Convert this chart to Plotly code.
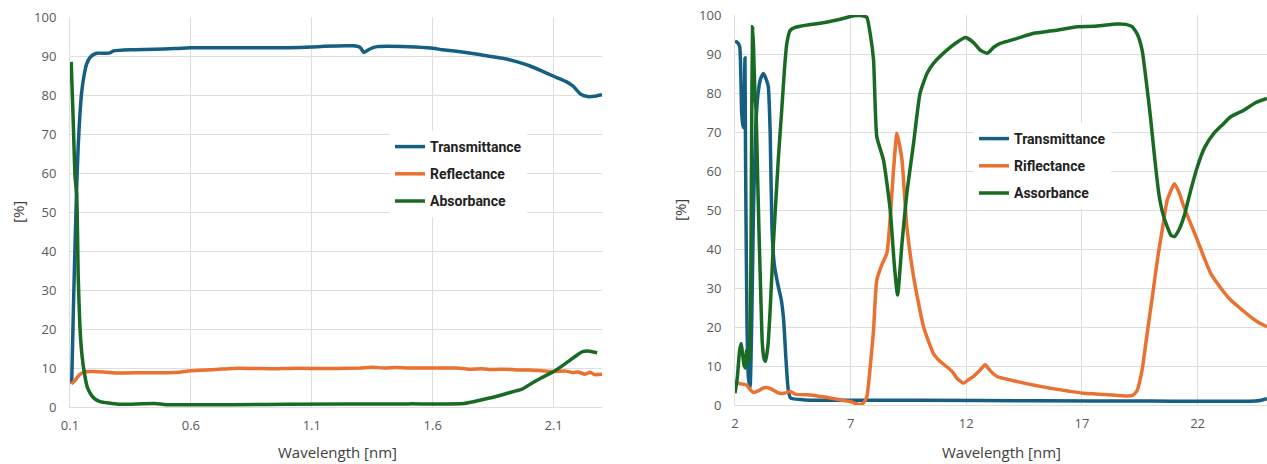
import plotly.graph_objects as go

# ---------------- Left chart data (0.1 - 2.3 nm) ----------------
t1_x = [0.107, 0.114, 0.121, 0.128, 0.134, 0.141, 0.148, 0.158, 0.169, 0.185, 0.21, 0.25, 0.265, 0.28,
        0.35, 0.45, 0.53, 0.6, 0.8, 1.0, 1.1, 1.15, 1.27, 1.3, 1.315, 1.34, 1.37, 1.5, 1.6, 1.64,
        1.7, 1.8, 1.9, 1.95, 2.0, 2.05, 2.1, 2.15, 2.18, 2.21, 2.24, 2.27, 2.3]
t1_y = [6.0, 25, 42, 57, 67, 75, 80.5, 85, 88, 89.8, 90.7, 90.7, 90.8, 91.3,
        91.6, 91.7, 91.9, 92.1, 92.1, 92.1, 92.3, 92.5, 92.6, 92.2, 90.9, 91.8, 92.4, 92.4, 92.0, 91.6,
        91.2, 90.3, 89.3, 88.5, 87.5, 86.2, 84.8, 83.5, 82.3, 80.3, 79.6, 79.7, 80.1]

r1_x = [0.105, 0.12, 0.14, 0.16, 0.2, 0.25, 0.3, 0.4, 0.5, 0.55, 0.6, 0.7, 0.77, 0.85, 0.95, 1.0,
        1.1, 1.2, 1.3, 1.35, 1.4, 1.45, 1.5, 1.6, 1.7, 1.75, 1.8, 1.85, 1.9, 1.95, 2.0, 2.05, 2.1,
        2.15, 2.18, 2.2, 2.23, 2.25, 2.27, 2.3]
r1_y = [5.9, 6.8, 8.3, 9.0, 9.1, 8.9, 8.7, 8.8, 8.8, 8.9, 9.3, 9.6, 9.9, 9.9, 9.8, 9.9,
        9.9, 9.9, 10.0, 10.2, 10.0, 10.1, 10.0, 10.0, 10.0, 9.7, 9.8, 9.6, 9.7, 9.5, 9.5, 9.3, 9.1,
        9.2, 8.8, 9.0, 8.4, 8.9, 8.3, 8.4]

a1_x = [0.105, 0.113, 0.121, 0.128, 0.134, 0.141, 0.15, 0.162, 0.172, 0.183, 0.2, 0.224, 0.26, 0.3,
        0.45, 0.5, 1.0, 1.5, 1.73, 1.8, 1.85, 1.93, 1.97, 2.01, 2.05, 2.1, 2.15, 2.19, 2.22, 2.25, 2.28]
a1_y = [88.5, 74, 59, 54, 33.4, 20.6, 13, 7.8, 5.0, 3.6, 2.2, 1.4, 1.0, 0.7,
        0.9, 0.6, 0.7, 0.8, 0.9, 1.8, 2.5, 3.9, 4.6, 6.1, 7.5, 9.1, 11.2, 13.0, 14.2, 14.3, 13.9]

# ---------------- Right chart data (2 - 25 nm) ----------------
t2_x = [2.0, 2.1, 2.2, 2.25, 2.29, 2.35, 2.39, 2.41, 2.43, 2.46, 2.52, 2.58, 2.65, 2.72, 2.8, 2.9,
        3.0, 3.1, 3.23, 3.35, 3.44, 3.52, 3.6, 3.7, 3.85, 4.0, 4.1, 4.2, 4.3, 4.4, 5.0, 10.0, 15.0,
        20.0, 24.5, 24.8, 25.0]
t2_y = [93.2, 93.0, 92.0, 85, 74.8, 71.5, 71, 80, 89, 60, 20, 7, 4.5, 20, 50, 72,
        80, 83.5, 85, 83.5, 81.6, 70, 45, 36, 31, 27, 22, 12, 4, 1.8, 1.3, 1.2, 1.1,
        1.0, 1.0, 1.3, 1.6]

r2_x = [2.0, 2.2, 2.5, 2.65, 2.79, 3.0, 3.2, 3.37, 3.6, 3.8, 3.95, 4.2, 4.38, 4.6, 5.1, 5.5, 5.82,
        6.2, 6.55, 7.0, 7.2, 7.41, 7.55, 7.7, 7.85, 7.99, 8.13, 8.35, 8.57, 8.71, 8.85, 9.0, 9.1,
        9.22, 9.43, 9.72, 10.15, 10.58, 10.9, 11.16, 11.4, 11.6, 11.88, 12.1, 12.3, 12.6, 12.82,
        13.0, 13.33, 14.2, 15.0, 15.64, 16.4, 17.08, 18.0, 18.96, 19.2, 19.39, 19.6, 19.82, 20.05,
        20.26, 20.5, 20.69, 21.0, 21.2, 21.41, 21.7, 21.99, 22.3, 22.56, 23.0, 23.43, 23.8, 24.29,
        24.6, 25.0]
r2_y = [6.0, 5.5, 5.1, 4.0, 3.2, 3.6, 4.3, 4.5, 4.0, 3.3, 3.0, 3.1, 3.5, 2.8, 2.6, 2.4, 2.1,
        1.7, 1.3, 0.9, 0.4, 0.1, 0.5, 2.1, 10, 19.2, 32, 36, 39, 48, 60, 69.7, 67,
        62.8, 45.7, 32.9, 20.1, 13.2, 11, 9.8, 8.5, 6.8, 5.6, 6.5, 7.3, 9.0, 10.3,
        9.0, 7.3, 6.0, 5.0, 4.3, 3.6, 3.0, 2.7, 2.3, 2.5, 3.8, 9, 18.4, 28,
        37.2, 46, 52.6, 56.7, 54.5, 50.8, 46.5, 42.3, 37.5, 33.8, 30, 26.9, 25, 22.6,
        21.3, 20.1]

a2_x = [2.0, 2.1, 2.2, 2.27, 2.33, 2.4, 2.45, 2.5, 2.55, 2.62, 2.68, 2.72, 2.76, 2.8, 2.86, 2.91,
        2.98, 3.05, 3.12, 3.18, 3.25, 3.32, 3.42, 3.52, 3.66, 3.87, 4.02, 4.15, 4.24, 4.38, 4.6,
        4.81, 5.2, 5.68, 6.0, 6.4, 6.8, 7.12, 7.5, 7.7, 7.85, 7.99, 8.13, 8.42, 8.71, 8.9, 9.03,
        9.22, 9.43, 9.72, 10.0, 10.3, 10.58, 11.16, 11.6, 11.96, 12.3, 12.6, 12.9, 13.2, 13.47,
        14.2, 14.91, 15.8, 16.79, 17.5, 18.52, 18.9, 19.17, 19.4, 19.6, 19.8, 19.96, 20.15, 20.32,
        20.5, 20.69, 20.85, 21.0, 21.2, 21.41, 21.7, 21.99, 22.3, 22.71, 23.1, 23.43, 24.0, 24.5, 25.0]
a2_y = [3, 7, 14, 15.8, 13, 10, 9.5, 14, 11, 12, 30, 70, 97, 92, 80, 75.6,
        58, 41.5, 27, 15.9, 12, 11.2, 15, 24.4, 41.5, 62.8, 75.6, 87, 92.7, 96, 96.8,
        97.1, 97.5, 97.9, 98.2, 98.7, 99.3, 99.8, 99.8, 99.4, 95, 88.5, 68.8, 62.8, 50, 35, 28.2,
        41.5, 54.3, 67.1, 79.9, 85, 87.6, 91, 93, 94.2, 93, 91, 90.2, 91.8, 92.7,
        94, 95.3, 96, 97, 97.1, 97.7, 97.6, 97, 95, 91, 82, 73.9, 63, 54.3,
        49, 45.7, 43.5, 43.2, 45, 48.3, 55, 61.1, 66, 69.7, 72, 73.9, 75.6, 77.5, 78.6]

left_ticks = [0.1, 0.6, 1.1, 1.6, 2.1]
right_ticks = [2, 7, 12, 17, 22]
y_ticks = [0, 10, 20, 30, 40, 50, 60, 70, 80, 90, 100]

names_left = ["Transmittance", "Reflectance", "Absorbance"]
names_right = ["Transmittance", "Riflectance", "Assorbance"]
colors = ["#156082", "#E97132", "#196B24"]

W, H = 1267, 464
fig = go.Figure()

left_series = [(t1_x, t1_y), (r1_x, r1_y), (a1_x, a1_y)]
right_series = [(t2_x, t2_y), (r2_x, r2_y), (a2_x, a2_y)]

for i, ((xs, ys), nm) in enumerate(zip(left_series, names_left)):
    fig.add_trace(go.Scatter(x=xs, y=ys, mode="lines", name=nm,
                             line=dict(color=colors[i], width=3.5, shape="spline", smoothing=0.5),
                             xaxis="x", yaxis="y", legend="legend",
                             legendgroup="L%d" % i))
for i, ((xs, ys), nm) in enumerate(zip(right_series, names_right)):
    fig.add_trace(go.Scatter(x=xs, y=ys, mode="lines", name=nm,
                             line=dict(color=colors[i], width=3.5, shape="spline", smoothing=0.5),
                             xaxis="x2", yaxis="y2", legend="legend2",
                             legendgroup="R%d" % i))

grid = "#dedede"
tickfont = dict(family="Open Sans", size=13, color="#595959")
common_x = dict(showgrid=True, gridcolor=grid, gridwidth=1, zeroline=False,
                showline=True, linecolor=grid, linewidth=1, ticks="", automargin=False,
                tickfont=tickfont, tickmode="array", ticklabelstandoff=6)
common_y = dict(showgrid=True, gridcolor=grid, gridwidth=1, zeroline=False,
                showline=True, linecolor=grid, linewidth=1, ticks="", automargin=False,
                tickfont=tickfont, tickmode="array", tickvals=y_ticks,
                ticktext=[str(v) for v in y_ticks], range=[0, 100], ticklabelstandoff=10)

legend_common = dict(bgcolor="white", borderwidth=0, traceorder="grouped", tracegroupgap=6,
                     font=dict(family="Roboto", size=14, color="#222222", weight="bold"),
                     xanchor="left", yanchor="top")

fig.update_layout(
    template="none",
    width=W, height=H,
    margin=dict(l=0, r=0, t=0, b=0, pad=0, autoexpand=False),
    paper_bgcolor="white", plot_bgcolor="white",
    xaxis=dict(common_x, domain=[70 / W, 602 / W], range=[0.1, 2.3],
               tickvals=left_ticks, ticktext=[str(v) for v in left_ticks], anchor="y"),
    yaxis=dict(common_y, domain=[1 - 407 / H, 1 - 17 / H], anchor="x"),
    xaxis2=dict(common_x, domain=[735 / W, 1.0], range=[2, 25],
                tickvals=right_ticks, ticktext=[str(v) for v in right_ticks], anchor="y2"),
    yaxis2=dict(common_y, domain=[1 - 405 / H, 1 - 15 / H], anchor="x2"),
    legend=dict(legend_common, x=390 / W, y=1 - 131 / H),
    legend2=dict(legend_common, x=974 / W, y=1 - 123 / H),
    showlegend=True,
)

title_font = dict(family="Open Sans", size=15, color="#404040")
annots = [
    dict(text="[%]", x=18 / W, y=1 - 212 / H, textangle=-90),
    dict(text="[%]", x=680 / W, y=1 - 210 / H, textangle=-90),
    dict(text="Wavelength [nm]", x=337 / W, y=1 - 452 / H, textangle=0),
    dict(text="Wavelength [nm]", x=1001 / W, y=1 - 452 / H, textangle=0),
]
for a in annots:
    fig.add_annotation(text=a["text"], x=a["x"], y=a["y"], xref="paper", yref="paper",
                       showarrow=False, textangle=a["textangle"], font=title_font,
                       xanchor="center", yanchor="middle")

fig.write_html("out.html")
